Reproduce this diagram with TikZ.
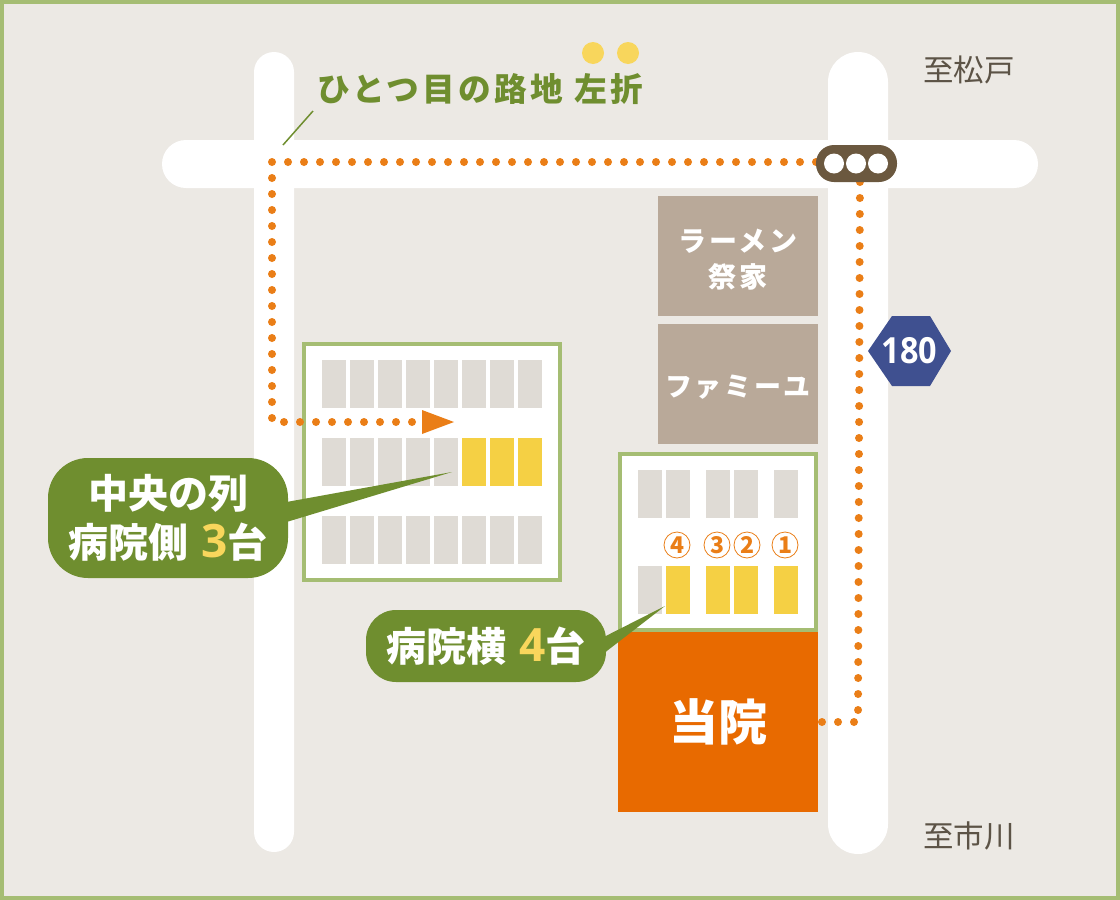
\documentclass[tikz,border=0pt]{standalone}
\usepackage{fontspec}
\usepackage{xcolor}
\usetikzlibrary{positioning}

\newfontfamily\jpfont{Noto Sans CJK JP}
\newfontfamily\jpwide[LetterSpace=10]{Noto Sans CJK JP}
\newfontfamily\numfont{Open Sans}
\newcommand{\bignum}[1]{\hspace{13pt}{\color{dot}\numfont\fontsize{46}{49}\selectfont #1}}

\definecolor{ground}{HTML}{ECE9E4}
\definecolor{frame}{HTML}{A5BD73}
\definecolor{leaf}{HTML}{6F8E2F}
\definecolor{route}{HTML}{EA7E17}
\definecolor{clinic}{HTML}{E86A00}
\definecolor{shop}{HTML}{B9A999}
\definecolor{stall}{HTML}{DFDBD5}
\definecolor{free}{HTML}{F5D044}
\definecolor{dot}{HTML}{F8D65C}
\definecolor{signal}{HTML}{6B583F}
\definecolor{sign}{HTML}{3F5090}
\definecolor{ink}{HTML}{5C5346}

\tikzset{
  shoptext/.style={inner sep=0pt,text=white,align=center,font=\jpwide\bfseries\fontsize{28}{36}\selectfont},
  callout/.style={fill=leaf,minimum width=240pt,inner sep=0pt,outer sep=0pt,text=white,align=center,font=\jpfont\bfseries\fontsize{40}{49}\selectfont},
  routeline/.style={route,line width=8pt,line cap=round,dash pattern=on 0pt off 16pt},
  placelabel/.style={ink,font=\jpfont\fontsize{30.5}{34}\selectfont},
  turnno/.style={circle,draw=route,line width=0.8pt,text=route,minimum size=26pt,inner sep=0pt,font=\jpfont\bfseries\fontsize{23}{23}\selectfont},
  signallamp/.style={circle,fill=white,minimum size=20pt,inner sep=0pt}
}

\begin{document}
\begin{tikzpicture}[x=1pt,y=-1pt]
\useasboundingbox (0,0) rectangle (1120,900);
\fill[ground] (0,0) rectangle (1120,900);
\draw[frame,line width=4pt] (2,2) rectangle (1118,898);

% roads
\fill[white,rounded corners=20pt] (254,52) rectangle (294,852);
\fill[white,rounded corners=30pt] (828,52) rectangle (888,854);
\fill[white,rounded corners=24pt] (162,140) rectangle (1038,188);

\coordinate (corner) at (272,162);
\coordinate (light) at (816,162);
\coordinate (bend) at (272,422);
\coordinate (stop) at (414,422);
\coordinate (tip) at (454,422);
\coordinate (lightdown) at (860,166);
\coordinate (turn) at (858,722);
\coordinate (door) at (822,722);

% parking by the middle row
\draw[frame,fill=white,line width=4pt] (304,344) rectangle (560,580);
\foreach \row in {360,438,516}
  \foreach \col in {0,...,7}
    \fill[stall] ({322+28*\col},\row) rectangle +(24,48);
\foreach \col in {5,6,7}
  \fill[free] ({322+28*\col},438) rectangle +(24,48);

% parking beside the clinic
\draw[frame,fill=white,line width=4pt] (620,454) rectangle (816,630);
\foreach \col in {638,666,706,734,774}
  \fill[stall] (\col,470) rectangle +(24,48);
\fill[stall] (638,566) rectangle +(24,48);
\foreach \col in {666,706,734,774}
  \fill[free] (\col,566) rectangle +(24,48);

\node[turnno] (no4) at (677,545) {4};
\node[turnno] (no3) at (717,545) {3};
\node[turnno] (no2) at (747,545) {2};
\node[turnno] (no1) at (785,545) {1};

% buildings
\fill[shop] (658,196) rectangle (818,316);
\fill[shop] (658,324) rectangle (818,444);
\node[shoptext] (ramen) at (738,260) {ラーメン\\祭家};
\node[shoptext,font=\jpwide\bfseries\fontsize{27}{36}\selectfont] (famille) at (738,387) {ファミーユ};
\node[fill=clinic,minimum width=200pt,minimum height=180pt,inner sep=0pt,text=white,font=\jpfont\bfseries\fontsize{49}{49}\selectfont] (clinic) at (718,722) {当院};

% route
\draw[routeline] (light) -- (corner) -- (bend) -- (stop);
\draw[routeline] (lightdown) -- (turn) -- (door);
\fill[route] (422,410) -- (tip) -- (422,434) -- cycle;

% signal
\node[fill=signal,rounded corners=18pt,minimum width=81pt,minimum height=37pt] (lamps) at (856.5,163.5) {};
\node[signallamp] (lamp1) at (834,163.5) {};
\node[signallamp] (lamp2) at (856,163.5) {};
\node[signallamp] (lamp3) at (878,163.5) {};

% route sign
\fill[sign] (868,351) -- (892,316) -- (930,316) -- (951,351) -- (930,386) -- (892,386) -- cycle;
\node[text=white,font=\numfont\bfseries\fontsize{36}{36}\selectfont,xscale=0.9] (signno) at (909.5,351) {180};

% turn note
\node[leaf,font=\jpwide\bfseries\fontsize{32.7}{38}\selectfont] (turnnote) at (480,89) {ひとつ目の路地 左折};
\coordinate (noteend) at (313,111);
\coordinate (notefoot) at (283,145);
\draw[leaf,line width=1.5pt] (noteend) -- (notefoot);
\fill[dot] (593,53) circle(11pt);
\fill[dot] (628,53) circle(11pt);

\node[placelabel] (north) at (969,70) {至松戸};
\node[placelabel] (south) at (969,836) {至市川};

% callouts
\coordinate (tailtip1) at (452,472);
\coordinate (tailtip2) at (665,606);
\fill[leaf] (270,505) -- (tailtip1) -- (270,527) -- cycle;
\fill[leaf] (590,644) -- (tailtip2) -- (590,664) -- cycle;
\node[callout,minimum height=120pt,rounded corners=40pt] (middle) at (168,518) {中央の列\\病院側\bignum{3}台};
\node[callout,minimum height=72pt,rounded corners=30pt] (beside) at (486,646) {病院横\bignum{4}台};
\end{tikzpicture}
\end{document}
